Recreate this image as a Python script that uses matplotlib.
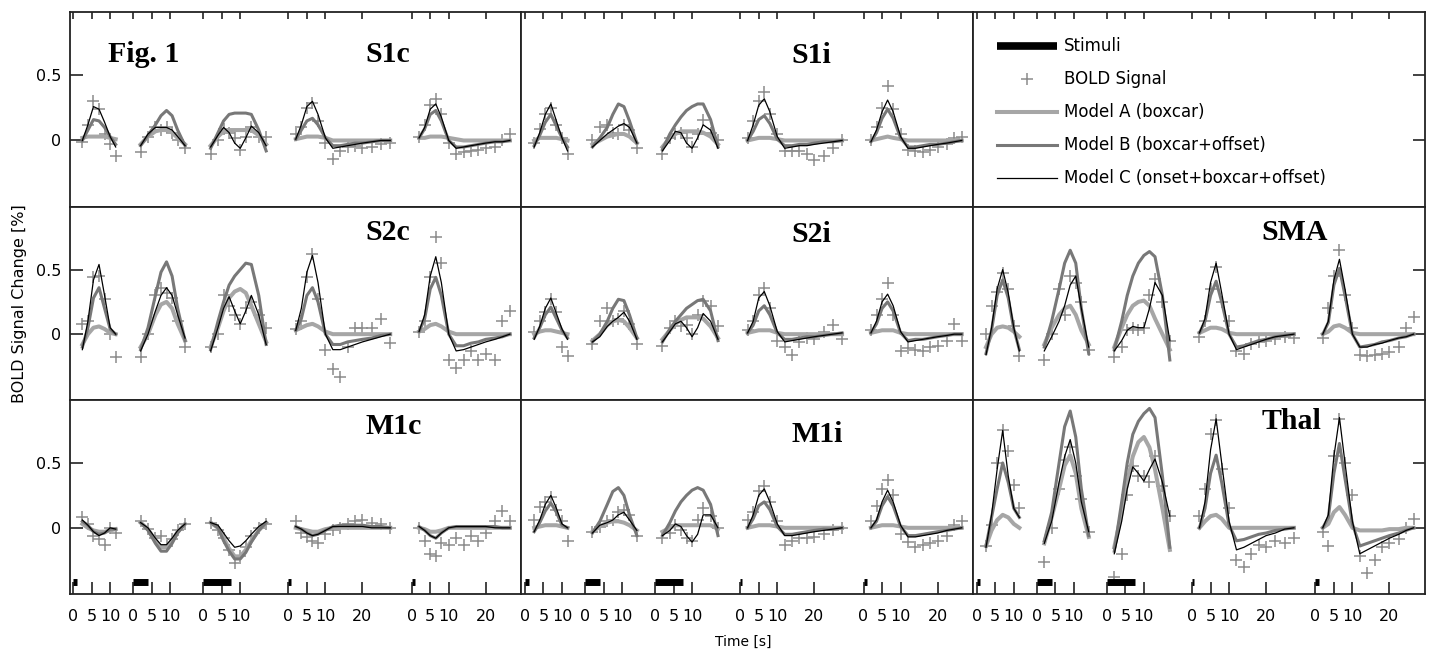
import matplotlib
matplotlib.use('Agg')
import matplotlib.pyplot as plt
from matplotlib.lines import Line2D

# sample times (s) inside each of the five stimulus blocks
T1 = [2.5, 4, 5.5, 7, 8.5, 10, 11.5]
T2 = [2, 4, 6, 7.5, 9, 10.5, 12, 14]
T3 = [2, 4, 5.5, 7, 8.5, 10, 11.5, 13, 15, 17]
T4 = [2, 3.5, 5, 6.5, 8, 10, 12, 14, 16, 18, 20, 22.5, 25, 27.5]
T5 = [2, 3.5, 5, 6.5, 8, 10, 12, 14, 16, 18, 20, 22.5, 24.5, 26.5]
TIMES = [T1, T2, T3, T4, T5]

# where each block starts on the shared time axis, its tick marks and stimulus length
SEG_START = [0.97, 17.2, 36.1, 59.1, 92.4]
SEG_TICKS = [[0, 5, 10], [0, 5, 10], [0, 5, 10], [0, 5, 10, 20], [0, 5, 10, 20]]
STIM_DUR = [1, 4, 7.5, 0.6, 1]

# ---- S1c
S1C_A = [[0.02, 0.03, 0.03, 0.03, 0.03, 0.02, 0.01],
         [-0.03, 0.03, 0.07, 0.08, 0.08, 0.06, 0.02, -0.03],
         [-0.04, 0.03, 0.07, 0.08, 0.08, 0.08, 0.08, 0.08, 0.04, -0.03],
         [0.01, 0.02, 0.03, 0.03, 0.03, 0.02, 0.0, 0.0, 0.0, 0.0, 0.0, 0.0, 0.0, 0.0],
         [0.02, 0.02, 0.03, 0.03, 0.03, 0.02, 0.01, 0.0, 0.0, 0.0, 0.0, 0.0, 0.0, 0.0]]
S1C_B = [[0.0, 0.08, 0.16, 0.15, 0.1, 0.03, -0.03],
         [-0.04, 0.04, 0.12, 0.19, 0.23, 0.19, 0.08, -0.04],
         [-0.06, 0.06, 0.15, 0.2, 0.21, 0.21, 0.21, 0.2, 0.08, -0.08],
         [0.01, 0.08, 0.15, 0.17, 0.12, 0.02, -0.04, -0.04, -0.03, -0.02, -0.02, -0.01, 0.0, 0.0],
         [0.02, 0.09, 0.2, 0.23, 0.15, 0.0, -0.05, -0.05, -0.04, -0.03, -0.02, -0.01, -0.01, 0.0]]
S1C_C = [[0.0, 0.12, 0.26, 0.24, 0.14, 0.03, -0.05],
         [-0.04, 0.05, 0.1, 0.1, 0.1, 0.08, 0.03, -0.04],
         [-0.05, 0.04, 0.1, 0.06, -0.02, -0.06, 0.02, 0.11, 0.06, -0.04],
         [0.01, 0.12, 0.26, 0.3, 0.2, 0.02, -0.06, -0.05, -0.04, -0.03, -0.02, -0.01, 0.0, 0.0],
         [0.02, 0.1, 0.24, 0.28, 0.18, 0.0, -0.06, -0.05, -0.04, -0.03, -0.02, -0.01, -0.01, 0.0]]
S1C_BOLD = [[-0.01, 0.12, 0.3, 0.24, 0.05, -0.03, -0.12],
            [-0.09, 0.03, 0.1, 0.08, 0.1, 0.06, 0.0, -0.06],
            [-0.1, 0.0, 0.09, 0.06, 0.02, -0.07, 0.03, 0.1, 0.03, 0.03],
            [0.05, 0.1, 0.25, 0.29, 0.15, -0.02, -0.14, -0.08, -0.05, -0.04, -0.06, -0.05, -0.03, -0.02],
            [0.03, 0.12, 0.27, 0.32, 0.2, -0.02, -0.1, -0.09, -0.08, -0.07, -0.06, -0.05, 0.0, 0.05]]

# ---- S1i
S1I_A = [[0.0, 0.02, 0.02, 0.02, 0.02, 0.01, 0.0],
         [-0.03, 0.0, 0.03, 0.04, 0.05, 0.05, 0.03, -0.02],
         [-0.05, 0.02, 0.05, 0.07, 0.07, 0.07, 0.07, 0.06, 0.03, -0.03],
         [0.0, 0.01, 0.02, 0.02, 0.02, 0.01, 0.0, 0.0, 0.0, 0.0, 0.0, 0.0, 0.0, 0.0],
         [0.0, 0.01, 0.02, 0.03, 0.02, 0.01, 0.0, 0.0, 0.0, 0.0, 0.0, 0.0, 0.0, 0.0]]
S1I_B = [[-0.04, 0.04, 0.14, 0.2, 0.11, 0.02, -0.05],
         [-0.05, 0.02, 0.1, 0.2, 0.28, 0.26, 0.15, -0.02],
         [-0.07, 0.05, 0.12, 0.18, 0.23, 0.26, 0.28, 0.28, 0.16, -0.05],
         [0.0, 0.07, 0.16, 0.19, 0.13, 0.01, -0.04, -0.04, -0.03, -0.03, -0.02, -0.01, -0.01, 0.0],
         [-0.01, 0.06, 0.17, 0.24, 0.17, 0.02, -0.05, -0.05, -0.04, -0.03, -0.03, -0.02, -0.01, 0.0]]
S1I_C = [[-0.05, 0.06, 0.2, 0.28, 0.15, 0.02, -0.08],
         [-0.05, 0.0, 0.05, 0.08, 0.11, 0.13, 0.1, -0.02],
         [-0.08, 0.0, 0.07, 0.06, -0.02, -0.06, 0.02, 0.12, 0.08, -0.06],
         [0.0, 0.12, 0.27, 0.32, 0.22, 0.03, -0.06, -0.05, -0.04, -0.04, -0.03, -0.02, -0.01, 0.0],
         [-0.01, 0.08, 0.22, 0.31, 0.22, 0.03, -0.06, -0.06, -0.05, -0.04, -0.03, -0.02, -0.01, 0.0]]
S1I_BOLD = [[-0.02, 0.09, 0.2, 0.25, 0.12, 0.02, -0.1],
            [0.0, 0.1, 0.12, 0.06, 0.05, 0.12, 0.08, -0.06],
            [-0.1, 0.02, 0.05, 0.06, 0.02, -0.05, 0.05, 0.16, 0.06, 0.0],
            [0.02, 0.15, 0.3, 0.37, 0.2, 0.05, -0.08, -0.08, -0.08, -0.1, -0.15, -0.12, -0.06, 0.0],
            [0.0, 0.1, 0.25, 0.42, 0.24, 0.05, -0.07, -0.08, -0.09, -0.07, -0.05, -0.03, 0.02, 0.03]]

# ---- S2c
S2C_A = [[-0.08, 0.0, 0.05, 0.06, 0.04, 0.01, 0.0],
         [-0.1, 0.0, 0.15, 0.23, 0.25, 0.2, 0.08, -0.05],
         [-0.1, 0.05, 0.18, 0.28, 0.33, 0.35, 0.32, 0.22, 0.08, -0.06],
         [0.03, 0.05, 0.07, 0.08, 0.06, 0.02, 0.0, 0.0, 0.0, 0.0, 0.0, 0.0, 0.0, 0.0],
         [0.02, 0.04, 0.07, 0.08, 0.06, 0.02, 0.0, 0.0, 0.0, 0.0, 0.0, 0.0, 0.0, 0.0]]
S2C_B = [[-0.1, 0.05, 0.28, 0.36, 0.2, 0.04, 0.0],
         [-0.12, 0.05, 0.3, 0.48, 0.56, 0.45, 0.2, -0.05],
         [-0.12, 0.1, 0.25, 0.38, 0.45, 0.5, 0.55, 0.54, 0.3, -0.08],
         [0.03, 0.12, 0.3, 0.36, 0.25, 0.0, -0.08, -0.08, -0.06, -0.05, -0.04, -0.03, -0.01, 0.0],
         [0.02, 0.12, 0.35, 0.44, 0.3, 0.0, -0.09, -0.09, -0.07, -0.06, -0.04, -0.03, -0.02, 0.0]]
S2C_C = [[-0.12, 0.1, 0.42, 0.54, 0.3, 0.05, 0.0],
         [-0.13, 0.0, 0.18, 0.3, 0.36, 0.3, 0.15, -0.03],
         [-0.13, 0.05, 0.2, 0.29, 0.18, 0.08, 0.18, 0.3, 0.15, -0.08],
         [0.03, 0.2, 0.48, 0.61, 0.4, 0.0, -0.12, -0.12, -0.1, -0.08, -0.06, -0.04, -0.02, 0.0],
         [0.02, 0.15, 0.45, 0.6, 0.4, 0.0, -0.13, -0.12, -0.1, -0.08, -0.06, -0.04, -0.02, 0.0]]
S2C_BOLD = [[0.08, 0.1, 0.44, 0.45, 0.27, 0.0, -0.18],
            [-0.18, 0.0, 0.3, 0.36, 0.32, 0.28, 0.1, -0.1],
            [-0.1, 0.0, 0.3, 0.22, 0.15, 0.08, 0.2, 0.25, 0.15, 0.05],
            [0.04, 0.1, 0.44, 0.62, 0.27, -0.12, -0.27, -0.33, -0.1, 0.05, 0.05, 0.05, 0.12, -0.07],
            [0.02, 0.1, 0.44, 0.75, 0.55, -0.2, -0.26, -0.2, -0.13, -0.2, -0.15, -0.2, 0.1, 0.18]]

# ---- S2i
S2I_A = [[0.0, 0.02, 0.03, 0.03, 0.02, 0.01, 0.0],
         [-0.05, 0.0, 0.07, 0.1, 0.11, 0.1, 0.05, -0.03],
         [-0.04, 0.03, 0.08, 0.11, 0.13, 0.13, 0.13, 0.12, 0.06, -0.03],
         [0.01, 0.02, 0.03, 0.03, 0.03, 0.01, 0.0, 0.0, 0.0, 0.0, 0.0, 0.0, 0.0, 0.0],
         [0.01, 0.02, 0.03, 0.03, 0.03, 0.01, 0.0, 0.0, 0.0, 0.0, 0.0, 0.0, 0.0, 0.0]]
S2I_B = [[-0.03, 0.05, 0.15, 0.21, 0.12, 0.03, -0.03],
         [-0.06, 0.0, 0.1, 0.2, 0.27, 0.26, 0.15, -0.03],
         [-0.06, 0.04, 0.1, 0.15, 0.2, 0.23, 0.26, 0.27, 0.18, -0.05],
         [0.01, 0.07, 0.18, 0.22, 0.15, 0.01, -0.04, -0.04, -0.03, -0.02, -0.02, -0.01, 0.0, 0.01],
         [0.01, 0.08, 0.2, 0.25, 0.18, 0.01, -0.05, -0.04, -0.04, -0.03, -0.02, -0.01, 0.0, 0.0]]
S2I_C = [[-0.04, 0.06, 0.2, 0.28, 0.16, 0.04, -0.04],
         [-0.06, -0.02, 0.06, 0.1, 0.13, 0.17, 0.1, -0.04],
         [-0.06, 0.02, 0.08, 0.1, 0.05, -0.02, 0.05, 0.16, 0.1, -0.04],
         [0.01, 0.1, 0.28, 0.33, 0.22, 0.02, -0.06, -0.05, -0.04, -0.03, -0.02, -0.01, 0.0, 0.01],
         [0.01, 0.1, 0.25, 0.31, 0.22, 0.02, -0.06, -0.05, -0.04, -0.03, -0.02, -0.01, 0.0, 0.0]]
S2I_BOLD = [[0.02, 0.1, 0.17, 0.27, 0.17, -0.1, -0.17],
            [-0.08, 0.1, 0.2, 0.1, 0.12, 0.18, 0.08, -0.08],
            [-0.09, 0.05, 0.1, 0.06, 0.07, 0.0, 0.15, 0.26, 0.22, 0.06],
            [0.03, 0.1, 0.3, 0.36, 0.2, -0.05, -0.1, -0.16, -0.06, -0.03, -0.04, 0.02, 0.07, -0.04],
            [0.03, 0.15, 0.27, 0.4, 0.15, -0.13, -0.11, -0.12, -0.13, -0.1, -0.09, -0.05, 0.08, -0.05]]

# ---- SMA
SMA_A = [[-0.1, 0.0, 0.05, 0.06, 0.05, 0.02, -0.02],
         [-0.08, 0.05, 0.15, 0.2, 0.22, 0.15, 0.03, -0.08],
         [-0.1, 0.05, 0.15, 0.22, 0.25, 0.26, 0.22, 0.12, 0.0, -0.12],
         [0.01, 0.03, 0.05, 0.05, 0.04, 0.01, 0.0, 0.0, 0.0, 0.0, 0.0, 0.0, 0.0, 0.0],
         [0.0, 0.02, 0.06, 0.07, 0.05, 0.01, 0.0, 0.0, 0.0, 0.0, 0.0, 0.0, 0.0, 0.0]]
SMA_B = [[-0.15, 0.03, 0.3, 0.42, 0.28, 0.04, -0.12],
         [-0.1, 0.1, 0.35, 0.55, 0.65, 0.55, 0.2, -0.15],
         [-0.12, 0.1, 0.3, 0.45, 0.55, 0.61, 0.64, 0.6, 0.3, -0.2],
         [0.01, 0.1, 0.3, 0.41, 0.25, 0.0, -0.1, -0.09, -0.07, -0.05, -0.04, -0.02, -0.01, 0.0],
         [0.0, 0.09, 0.38, 0.51, 0.3, 0.0, -0.1, -0.09, -0.08, -0.06, -0.05, -0.03, -0.02, 0.0]]
SMA_C = [[-0.16, 0.05, 0.35, 0.5, 0.32, 0.05, -0.13],
         [-0.13, -0.02, 0.1, 0.22, 0.38, 0.45, 0.2, -0.1],
         [-0.13, -0.05, 0.03, 0.06, 0.05, 0.05, 0.2, 0.4, 0.3, -0.05],
         [0.01, 0.12, 0.4, 0.55, 0.32, 0.0, -0.12, -0.1, -0.08, -0.06, -0.04, -0.02, -0.01, 0.0],
         [0.0, 0.1, 0.42, 0.58, 0.35, 0.0, -0.1, -0.1, -0.08, -0.07, -0.05, -0.03, -0.02, 0.0]]
SMA_BOLD = [[0.0, 0.22, 0.33, 0.47, 0.35, 0.06, -0.17],
            [-0.2, 0.0, 0.35, 0.15, 0.45, 0.4, 0.25, -0.12],
            [-0.18, -0.1, 0.03, 0.05, 0.03, 0.05, 0.3, 0.43, 0.25, -0.05],
            [-0.02, 0.1, 0.35, 0.52, 0.25, 0.1, -0.13, -0.15, -0.08, -0.06, -0.05, -0.04, -0.02, -0.03],
            [-0.03, 0.2, 0.45, 0.65, 0.3, 0.05, -0.16, -0.17, -0.16, -0.15, -0.14, -0.1, 0.05, 0.13]]

# ---- M1c
M1C_A = [[0.03, 0.0, -0.02, -0.03, -0.03, -0.02, -0.01],
         [0.04, -0.01, -0.1, -0.15, -0.15, -0.1, -0.03, 0.03],
         [0.04, 0.0, -0.08, -0.16, -0.22, -0.22, -0.17, -0.1, -0.02, 0.04],
         [0.0, -0.01, -0.02, -0.03, -0.03, -0.01, 0.0, 0.0, 0.0, 0.0, 0.0, 0.0, 0.0, 0.0],
         [0.0, -0.01, -0.03, -0.03, -0.02, 0.0, 0.0, 0.0, 0.0, 0.0, 0.0, 0.0, 0.0, 0.0]]
M1C_B = [[0.05, 0.02, -0.03, -0.05, -0.04, -0.01, -0.01],
         [0.04, -0.02, -0.12, -0.18, -0.18, -0.12, -0.04, 0.03],
         [0.04, 0.0, -0.1, -0.18, -0.24, -0.24, -0.19, -0.11, -0.02, 0.04],
         [0.01, -0.01, -0.04, -0.06, -0.05, -0.02, 0.01, 0.02, 0.02, 0.02, 0.02, 0.01, 0.01, 0.0],
         [0.01, -0.02, -0.06, -0.08, -0.04, 0.0, 0.01, 0.01, 0.01, 0.01, 0.01, 0.01, 0.0, 0.0]]
M1C_C = [[0.06, 0.02, -0.03, -0.06, -0.04, 0.0, -0.01],
         [0.04, 0.0, -0.08, -0.13, -0.13, -0.08, -0.02, 0.03],
         [0.04, 0.02, -0.04, -0.1, -0.15, -0.14, -0.1, -0.05, 0.01, 0.05],
         [0.01, -0.01, -0.04, -0.06, -0.05, -0.02, 0.01, 0.01, 0.01, 0.01, 0.01, 0.0, 0.0, 0.0],
         [0.01, -0.02, -0.06, -0.08, -0.04, 0.0, 0.01, 0.01, 0.01, 0.01, 0.01, 0.0, 0.0, 0.0]]
M1C_BOLD = [[0.08, 0.03, -0.06, -0.09, -0.13, 0.0, -0.04],
            [0.05, -0.01, -0.08, -0.06, -0.14, -0.09, -0.02, 0.03],
            [0.04, -0.02, -0.08, -0.17, -0.27, -0.22, -0.15, -0.06, 0.0, 0.03],
            [0.05, -0.04, -0.07, -0.1, -0.12, -0.05, -0.02, 0.0, 0.03, 0.05, 0.06, 0.04, 0.03, 0.0],
            [0.0, -0.1, -0.2, -0.22, -0.12, -0.13, -0.08, -0.13, -0.06, -0.1, -0.04, 0.05, 0.13, 0.05]]

# ---- M1i
M1I_A = [[0.0, 0.01, 0.02, 0.02, 0.02, 0.01, 0.0],
         [-0.03, 0.01, 0.04, 0.05, 0.05, 0.04, 0.02, -0.02],
         [-0.03, 0.0, 0.02, 0.02, 0.02, 0.02, 0.02, 0.02, 0.02, -0.01],
         [0.0, 0.01, 0.02, 0.02, 0.02, 0.01, 0.0, 0.0, 0.0, 0.0, 0.0, 0.0, 0.0, 0.0],
         [0.0, 0.01, 0.02, 0.02, 0.02, 0.01, 0.0, 0.0, 0.0, 0.0, 0.0, 0.0, 0.0, 0.0]]
M1I_B = [[-0.03, 0.04, 0.13, 0.19, 0.12, 0.02, 0.0],
         [-0.04, 0.05, 0.18, 0.28, 0.31, 0.25, 0.1, -0.06],
         [-0.06, 0.04, 0.13, 0.2, 0.25, 0.29, 0.31, 0.29, 0.18, -0.06],
         [0.0, 0.07, 0.17, 0.2, 0.14, 0.01, -0.05, -0.05, -0.04, -0.03, -0.02, -0.01, -0.01, 0.0],
         [0.0, 0.05, 0.17, 0.24, 0.17, 0.01, -0.06, -0.06, -0.05, -0.04, -0.03, -0.02, -0.01, 0.0]]
M1I_C = [[-0.03, 0.06, 0.18, 0.25, 0.15, 0.03, 0.0],
         [-0.04, 0.02, 0.04, 0.06, 0.1, 0.12, 0.06, -0.02],
         [-0.06, -0.02, 0.03, 0.01, -0.06, -0.11, -0.05, 0.1, 0.1, 0.0],
         [0.0, 0.1, 0.25, 0.3, 0.2, 0.03, -0.06, -0.06, -0.05, -0.04, -0.03, -0.02, -0.01, 0.0],
         [0.0, 0.06, 0.2, 0.29, 0.2, 0.02, -0.07, -0.07, -0.06, -0.05, -0.04, -0.02, -0.01, 0.0]]
M1I_BOLD = [[0.06, 0.16, 0.2, 0.24, 0.14, 0.05, -0.1],
            [-0.03, 0.01, 0.05, 0.06, 0.12, 0.14, 0.1, -0.06],
            [-0.08, -0.04, 0.02, -0.02, -0.08, -0.1, 0.06, 0.15, 0.09, 0.0],
            [0.06, 0.12, 0.28, 0.32, 0.2, 0.05, -0.13, -0.1, -0.08, -0.08, -0.07, -0.05, -0.02, 0.0],
            [0.05, 0.17, 0.3, 0.37, 0.25, -0.05, -0.11, -0.15, -0.13, -0.12, -0.1, -0.06, 0.02, 0.05]]

# ---- Thal
THAL_A = [[-0.14, -0.02, 0.06, 0.1, 0.08, 0.03, 0.0],
          [-0.12, 0.08, 0.3, 0.48, 0.56, 0.42, 0.15, -0.07],
          [-0.15, 0.12, 0.35, 0.55, 0.66, 0.7, 0.62, 0.45, 0.15, -0.17],
          [0.0, 0.05, 0.09, 0.1, 0.07, 0.0, 0.0, 0.0, 0.0, 0.0, 0.0, 0.0, 0.0, 0.0],
          [0.0, 0.03, 0.12, 0.16, 0.1, 0.0, -0.02, -0.02, -0.02, -0.02, -0.01, -0.01, 0.0, 0.0]]
THAL_B = [[-0.14, 0.08, 0.3, 0.5, 0.35, 0.15, 0.08],
          [-0.1, 0.12, 0.5, 0.78, 0.9, 0.7, 0.3, -0.06],
          [-0.18, 0.2, 0.5, 0.72, 0.82, 0.88, 0.92, 0.85, 0.4, -0.15],
          [0.0, 0.15, 0.42, 0.56, 0.35, 0.02, -0.1, -0.09, -0.07, -0.05, -0.04, -0.02, -0.01, 0.0],
          [0.0, 0.08, 0.42, 0.65, 0.38, 0.03, -0.14, -0.12, -0.1, -0.08, -0.06, -0.04, -0.02, 0.0]]
THAL_C = [[-0.15, 0.1, 0.45, 0.75, 0.4, 0.15, 0.08],
          [-0.12, 0.05, 0.35, 0.55, 0.68, 0.5, 0.2, -0.03],
          [-0.2, 0.05, 0.3, 0.47, 0.42, 0.36, 0.45, 0.53, 0.35, 0.09],
          [0.0, 0.2, 0.6, 0.84, 0.5, 0.05, -0.17, -0.15, -0.12, -0.09, -0.06, -0.04, -0.01, 0.0],
          [0.0, 0.1, 0.55, 0.85, 0.5, 0.05, -0.2, -0.17, -0.14, -0.11, -0.08, -0.05, -0.02, 0.0]]
THAL_BOLD = [[-0.14, 0.02, 0.5, 0.75, 0.59, 0.33, 0.15],
             [-0.26, 0.0, 0.3, 0.52, 0.62, 0.4, 0.22, -0.03],
             [-0.38, -0.2, 0.25, 0.48, 0.4, 0.4, 0.35, 0.55, 0.32, 0.09],
             [0.09, 0.3, 0.72, 0.83, 0.45, 0.15, -0.25, -0.3, -0.2, -0.13, -0.15, -0.1, -0.12, -0.08],
             [-0.03, -0.14, 0.55, 0.84, 0.5, 0.25, -0.22, -0.35, -0.25, -0.15, -0.12, -0.09, 0.0, 0.07]]

# panel layout (row, col) -> region, title anchor in pixels
PANELS = [
    (0, 0, 'S1c', S1C_A, S1C_B, S1C_C, S1C_BOLD, (388, 62.5)),
    (0, 1, 'S1i', S1I_A, S1I_B, S1I_C, S1I_BOLD, (811, 63)),
    (1, 0, 'S2c', S2C_A, S2C_B, S2C_C, S2C_BOLD, (388, 240)),
    (1, 1, 'S2i', S2I_A, S2I_B, S2I_C, S2I_BOLD, (811, 241.5)),
    (1, 2, 'SMA', SMA_A, SMA_B, SMA_C, SMA_BOLD, (1295, 240)),
    (2, 0, 'M1c', M1C_A, M1C_B, M1C_C, M1C_BOLD, (394, 434)),
    (2, 1, 'M1i', M1I_A, M1I_B, M1I_C, M1I_BOLD, (817, 441.5)),
    (2, 2, 'Thal', THAL_A, THAL_B, THAL_C, THAL_BOLD, (1292, 429)),
]

COL_A = '#a6a6a6'
COL_B = '#787878'
COL_BOLD = '#8c8c8c'
W, H = 1430, 652

plt.rcParams['font.family'] = 'DejaVu Sans'
fig = plt.figure(figsize=(W / 100, H / 100), dpi=100)
gs = fig.add_gridspec(3, 3, left=69.5 / W, right=1425 / W, top=1 - 12 / H,
                      bottom=1 - 594 / H, hspace=0, wspace=0,
                      height_ratios=[195, 193, 194])
axes = [[fig.add_subplot(gs[r, c]) for c in range(3)] for r in range(3)]

xt, xl = [], []
for s0, tks in zip(SEG_START, SEG_TICKS):
    for t in tks:
        xt.append(s0 + t)
        xl.append(str(t))

for r in range(3):
    for c in range(3):
        ax = axes[r][c]
        ax.set_xlim(0, 122)
        ax.set_ylim(-0.51, 0.985)
        for sp in ax.spines.values():
            sp.set_linewidth(1.3)
            sp.set_color('#222222')
        ax.set_xticks(xt)
        ax.set_yticks([0, 0.5])
        ax.set_yticklabels(['0', '0.5'])
        ax.tick_params(axis='x', direction='in', top=(r == 0), bottom=(r == 2),
                       labelbottom=(r == 2), labeltop=False,
                       length=(5 if r == 0 else 9), width=1.2, color='#222222',
                       labelsize=11.5, pad=11)
        ax.tick_params(axis='y', direction='in', left=(c == 0), right=(c == 2),
                       labelleft=(c == 0), labelright=False, length=9, width=1.2,
                       color='#222222', labelsize=11.5, pad=6)
        if r == 2:
            ax.set_xticklabels(xl)
            for s0, d in zip(SEG_START, STIM_DUR):
                ax.plot([s0, s0 + d], [-0.415, -0.415], color='k', lw=5,
                        solid_capstyle='butt', zorder=6)

for r, c, name, A, B, C, BOLD, (tx, ty) in PANELS:
    ax = axes[r][c]
    for k in range(5):
        x = [SEG_START[k] + t for t in TIMES[k]]
        ax.plot(x, BOLD[k], ls='none', marker='+', ms=8, mew=1.1,
                color=COL_BOLD, zorder=2)
        ax.plot(x, A[k], color=COL_A, lw=2.9, zorder=3)
        ax.plot(x, B[k], color=COL_B, lw=2.2, zorder=4)
        ax.plot(x, C[k], color='k', lw=0.9, zorder=5)
    fig.text(tx / W, 1 - ty / H, name, ha='center', va='baseline',
             family='Liberation Serif', weight='bold', fontsize=21.5)

fig.text(144 / W, 1 - 62.5 / H, 'Fig. 1', ha='center', va='baseline',
         family='Liberation Serif', weight='bold', fontsize=21.5)

# legend panel
handles = [Line2D([], [], color='k', lw=5.5, solid_capstyle='butt'),
           Line2D([], [], ls='none', marker='+', ms=8, mew=1.1, color=COL_BOLD),
           Line2D([], [], color=COL_A, lw=2.9),
           Line2D([], [], color=COL_B, lw=2.2),
           Line2D([], [], color='k', lw=0.9)]
labels = ['Stimuli', 'BOLD Signal', 'Model A (boxcar)',
          'Model B (boxcar+offset)', 'Model C (onset+boxcar+offset)']
axes[0][2].legend(handles, labels, loc='upper left', bbox_to_anchor=(0.053, 0.87),
                  frameon=False, fontsize=12, handlelength=3.6, handletextpad=0.42,
                  labelspacing=0.9, borderpad=0, borderaxespad=0, numpoints=1)

fig.text(20 / W, 1 - 304 / H, 'BOLD Signal Change [%]', rotation=90,
         ha='center', va='center', fontsize=11.5)
fig.text(743.5 / W, 1 - 642 / H, 'Time [s]', ha='center', va='center', fontsize=10)

fig.savefig('out.png', dpi=100)
